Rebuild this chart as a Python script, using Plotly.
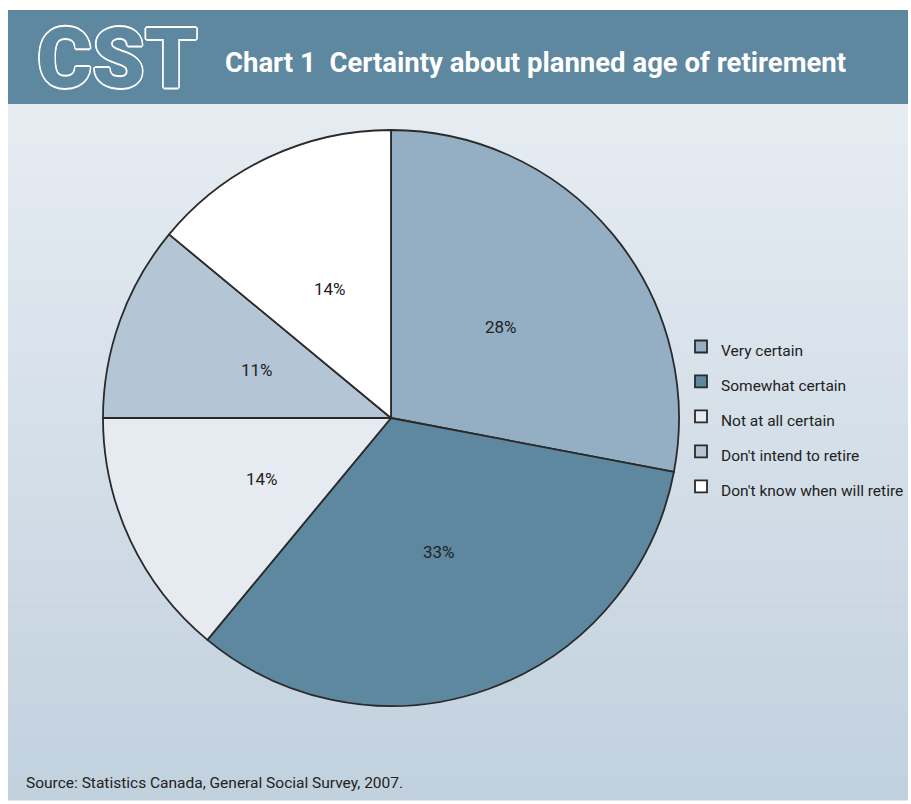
import math
import plotly.graph_objects as go

categories = ["Very certain", "Somewhat certain", "Not at all certain",
              "Don't intend to retire", "Don't know when will retire"]
values = [28, 33, 14, 11, 14]
slice_colors = ["#94AFC4", "#5E87A0", "#E6EBF2", "#B4C6D6", "#FFFFFF"]

W, H = 911, 804
FONT = "Roboto, Liberation Sans, sans-serif"

cx, cy, r = 391, 418, 288
dom_x = [(cx - r) / W, (cx + r) / W]
dom_y = [1 - (cy + r) / H, 1 - (cy - r) / H]

legend_labels = ['<span style="font-size:15.5px">%s</span>' % c for c in categories]

fig = go.Figure()
fig.add_trace(go.Pie(
    labels=legend_labels,
    values=values,
    sort=False,
    direction="clockwise",
    rotation=0,
    marker=dict(colors=slice_colors, line=dict(color="#2a2a2a", width=1.8)),
    textinfo="none",
    domain=dict(x=dom_x, y=dom_y),
    showlegend=True,
    hoverinfo="label+percent",
))

shapes = []
top, bot = 104, 800
n = 70
c0 = (0xE6, 0xEC, 0xF2)
c1 = (0xC1, 0xD1, 0xDE)
for i in range(n):
    t = i / (n - 1)
    col = tuple(round(c0[k] + (c1[k] - c0[k]) * t) for k in range(3))
    y0 = top + (bot - top) * i / n
    y1 = top + (bot - top) * (i + 1) / n + 0.6
    shapes.append(dict(type="rect", xref="paper", yref="paper",
                       x0=8 / W, x1=908 / W, y0=1 - y1 / H, y1=1 - y0 / H,
                       fillcolor="rgb(%d,%d,%d)" % col, line=dict(width=0),
                       layer="below"))
shapes.append(dict(type="rect", xref="paper", yref="paper",
                   x0=8 / W, x1=908 / W, y0=1 - 104 / H, y1=1 - 10 / H,
                   fillcolor="#5E87A0", line=dict(width=0), layer="below"))

outline = ", ".join("%gpx %gpx 0 #fff" % (dx, dy) for dx, dy in
                    [(1.6, 0), (-1.6, 0), (0, 1.6), (0, -1.6),
                     (1.2, 1.2), (-1.2, -1.2), (1.2, -1.2), (-1.2, 1.2)])

annotations = [
    dict(text="CST", x=35 / W, y=1 - 59 / H, xref="paper", yref="paper",
         xanchor="left", yanchor="middle", showarrow=False,
         font=dict(family="Roboto", weight=900, size=84, color="#5E87A0",
                   shadow=outline)),
    dict(text="<b>Chart 1  Certainty about planned age of retirement</b>",
         x=223 / W, y=1 - 62 / H, xref="paper", yref="paper",
         xanchor="left", yanchor="middle", showarrow=False,
         font=dict(family=FONT, size=27.5, color="#FFFFFF")),
    dict(text="Source: Statistics Canada, General Social Survey, 2007.",
         x=24 / W, y=1 - 783 / H, xref="paper", yref="paper",
         xanchor="left", yanchor="middle", showarrow=False,
         font=dict(family=FONT, size=15.5, color="#222222")),
]

# percentage labels placed on each slice's bisector at half radius
cum = 0
for v in values:
    mid = (cum + v / 2) / sum(values) * 2 * math.pi
    cum += v
    px = cx + 0.495 * r * math.sin(mid)
    py = cy - 0.495 * r * math.cos(mid)
    annotations.append(dict(text="%d%%" % v, x=px / W, y=1 - py / H,
                            xref="paper", yref="paper", showarrow=False,
                            xanchor="center", yanchor="middle",
                            font=dict(family=FONT, size=17, color="#222222")))

fig.update_layout(
    width=W, height=H,
    margin=dict(l=0, r=0, t=0, b=0, autoexpand=False),
    paper_bgcolor="#FFFFFF",
    plot_bgcolor="rgba(0,0,0,0)",
    shapes=shapes,
    annotations=annotations,
    legend=dict(x=681 / W, y=1 - 324 / H, xanchor="left", yanchor="top",
                bgcolor="rgba(0,0,0,0)",
                font=dict(family=FONT, size=24.6, color="#222222"),
                itemclick=False, itemdoubleclick=False),
)

fig.write_html("out.html", config={"displayModeBar": False},
               post_script="document.body.style.margin='0';document.body.style.overflow='hidden';")
